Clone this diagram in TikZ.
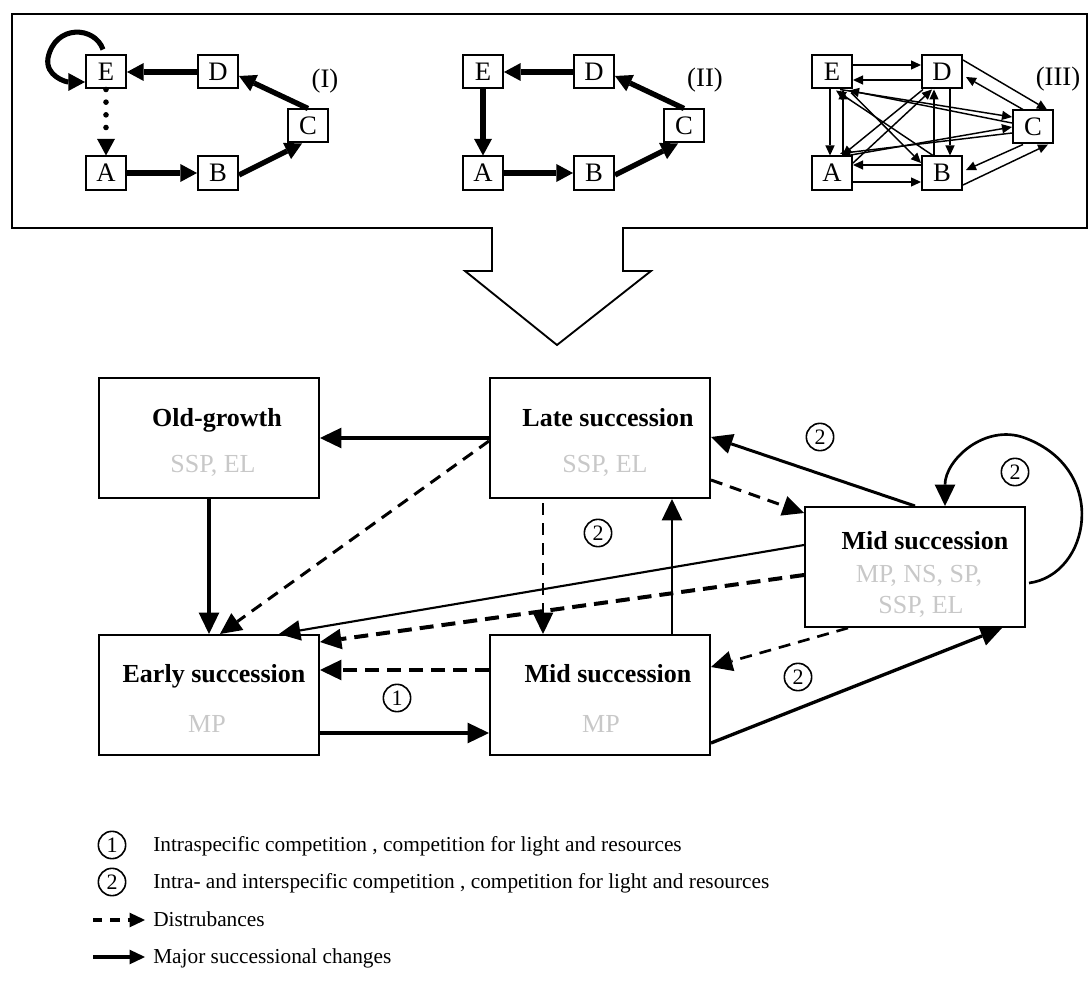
\documentclass[tikz,border=0pt]{standalone}
\usepackage{fontspec}
\setmainfont{Liberation Serif}
\usetikzlibrary{arrows.meta,calc}
\definecolor{lg}{RGB}{200,200,200}
\begin{document}
\begin{tikzpicture}[x=0.75pt,y=-0.75pt,
  box/.style={draw,line width=1.5pt,minimum width=165pt,minimum height=90pt,inner sep=0pt},
  ttl/.style={font=\fontsize{19.5}{20}\selectfont\bfseries,anchor=base,inner sep=0pt},
  sub/.style={font=\fontsize{19.5}{20}\selectfont,text=lg,anchor=base,inner sep=0pt},
  pbox/.style={draw,line width=1.5pt,minimum width=30pt,minimum height=24.75pt,inner sep=0pt,font=\fontsize{20}{20}\selectfont},
  plab/.style={font=\fontsize{20}{20}\selectfont,inner sep=0pt},
  cnum/.style={draw,circle,line width=1.2pt,minimum size=20.5pt,inner sep=0pt,font=\fontsize{16.5}{16.5}\selectfont},
  legtxt/.style={font=\fontsize{16}{16}\selectfont,anchor=base west,inner sep=0pt},
  mtip/.style={-{Triangle[length=16pt,width=15.5pt,line width=0pt]}},
  ptip/.style={-{Triangle[length=12.5pt,width=13.5pt,line width=0pt]}},
  ttip/.style={-{Triangle[length=7.5pt,width=7pt,line width=0pt]}},
  ltip/.style={-{Triangle[length=11.5pt,width=11pt,line width=0pt]}},
  dsh/.style={dash pattern=on 9pt off 6pt},
  dshB/.style={dash pattern=on 10.5pt off 6pt},
  parr/.style={ptip,line width=4pt},
  tarr/.style={ttip,line width=1.1pt}
]
\useasboundingbox (0,0) rectangle (1090,981);

% ---------- top frame with hollow arrow ----------
\draw[line width=1.4pt,line join=miter] (12,14) -- (1087,14) -- (1087,228) -- (623,228) -- (623,271) -- (651,271) -- (557,345) -- (465,271) -- (492,271) -- (492,228) -- (12,228) -- cycle;

% ---------- panel I ----------
\node[pbox] (iE) at (106,72) {E};
\node[pbox] (iD) at (218,72) {D};
\node[pbox] (iC) at (308,126) {C};
\node[pbox] (iA) at (106,173) {A};
\node[pbox] (iB) at (218,173) {B};
\node[plab] (iL) at (325,81) {(I)};
\draw[parr] (iD.west) -- (iE.east);
\draw[parr] (iC.north) -- ($(iD.east)+(0,4)$);
\draw[parr] (iA.east) -- (iB.west);
\draw[parr] ($(iB.east)+(0,2)$) -- ($(iC.south)+(-6,0)$);
\draw[ptip,line width=4.2pt,line cap=round,dash pattern=on 0pt off 9.5pt] (iE.south) -- (iA.north);
\draw[ptip,line width=3.8pt] ($(iE.north)+(-3,-5)$) .. controls (95,26) and (55,24) .. (48,58) .. controls (45,76) and (66,82) .. ($(iE.west)+(0,10)$);

% ---------- panel II ----------
\node[pbox] (iiE) at (483,72) {E};
\node[pbox] (iiD) at (594,72) {D};
\node[pbox] (iiC) at (684,126) {C};
\node[pbox] (iiA) at (483,173) {A};
\node[pbox] (iiB) at (594,173) {B};
\node[plab] (iiL) at (705,80) {(II)};
\draw[parr] (iiD.west) -- (iiE.east);
\draw[parr] (iiC.north) -- ($(iiD.east)+(0,4)$);
\draw[parr] (iiA.east) -- (iiB.west);
\draw[parr] ($(iiB.east)+(0,2)$) -- ($(iiC.south)+(-6,0)$);
\draw[parr] (iiE.south) -- (iiA.north);

% ---------- panel III ----------
\node[pbox] (iiiE) at (832,72) {E};
\node[pbox] (iiiD) at (942,72) {D};
\node[pbox] (iiiC) at (1033,127) {C};
\node[pbox] (iiiA) at (832,173) {A};
\node[pbox] (iiiB) at (942,173) {B};
\node[plab] (iiiL) at (1058,79) {(III)};
\draw[tarr] ($(iiiE.east)+(0,-7)$) -- ($(iiiD.west)+(0,-7)$);
\draw[tarr] ($(iiiD.west)+(0,8)$) -- ($(iiiE.east)+(0,8)$);
\draw[tarr] ($(iiiA.east)+(0,9)$) -- ($(iiiB.west)+(0,9)$);
\draw[tarr] ($(iiiB.west)+(0,-8)$) -- ($(iiiA.east)+(0,-8)$);
\draw[tarr] ($(iiiE.south)+(-2,0)$) -- ($(iiiA.north)+(-2,0)$);
\draw[tarr] ($(iiiA.north)+(11,0)$) -- ($(iiiE.south)+(11,0)$);
\draw[tarr] ($(iiiD.south)+(8,0)$) -- ($(iiiB.north)+(8,0)$);
\draw[tarr] ($(iiiB.north)+(-8,0)$) -- ($(iiiD.south)+(-8,0)$);
\draw[tarr] ($(iiiD.east)+(0,-12)$) -- ($(iiiC.north)+(14,0)$);
\draw[tarr] ($(iiiC.north)+(-10,0)$) -- ($(iiiD.east)+(3,5)$);
\draw[tarr] ($(iiiC.south)+(-10,0)$) -- ($(iiiB.east)+(3,-3)$);
\draw[tarr] ($(iiiB.east)+(0,12)$) -- ($(iiiC.south)+(15,0)$);
\draw[tarr] ($(iiiE.south)+(8,0)$) -- ($(iiiC.west)+(0,-10)$);
\draw[tarr] ($(iiiC.west)+(0,-4)$) -- ($(iiiE.south)+(17,1)$);
\draw[tarr] ($(iiiA.north)+(16,0)$) -- (iiiC.west);
\draw[tarr] ($(iiiC.west)+(0,6)$) -- ($(iiiA.north)+(8,-2)$);
\draw[tarr] ($(iiiA.east)+(0,-10)$) -- ($(iiiD.south)+(-10,0)$);
\draw[tarr] ($(iiiD.south west)+(2,0)$) -- ($(iiiA.north)+(10,0)$);
\draw[tarr] ($(iiiE.south east)+(-2,3)$) -- ($(iiiB.west)+(0,-10)$);
\draw[tarr] ($(iiiB.north)+(-9,0)$) -- ($(iiiE.south)+(4,1)$);

% ---------- main boxes ----------
\node[box] (old) at (209,438) {};
\node[box] (late) at (600,438) {};
\node[box] (midR) at (915,567) {};
\node[box] (early) at (209,695) {};
\node[box] (midB) at (600,695) {};

\node[ttl] (oldT) at ($(old)+(8,-12)$) {Old-growth};
\node[sub] (oldS) at ($(old)+(4,34)$) {SSP, EL};
\node[ttl] (lateT) at ($(late)+(8,-12)$) {Late succession};
\node[sub] (lateS) at ($(late)+(5,34)$) {SSP, EL};
\node[ttl] (midRT) at ($(midR)+(10,-18)$) {Mid succession};
\node[sub] (midRS1) at ($(midR)+(4,15)$) {MP, NS, SP,};
\node[sub] (midRS2) at ($(midR)+(6,46)$) {SSP, EL};
\node[ttl] (earlyT) at ($(early)+(5,-13)$) {Early succession};
\node[sub] (earlyS) at ($(early)+(-2,37)$) {MP};
\node[ttl] (midBT) at ($(midB)+(8,-13)$) {Mid succession};
\node[sub] (midBS) at ($(midB)+(1,37)$) {MP};

% ---------- main connectors ----------
\draw[mtip,line width=2.5pt] (late.west) -- (old.east);
\draw[mtip,line width=2.25pt,dsh] ($(late.west)+(0,3)$) -- ($(early.north)+(11,0)$);
\draw[mtip,line width=2.5pt] (old.south) -- (early.north);
\draw[mtip,line width=1.9pt,dsh] ($(late.south)+(-57,4)$) -- ($(midB.north)+(-57,0)$);
\draw[mtip,line width=2pt] ($(midB.north)+(72,0)$) -- ($(late.south)+(72,0)$);
\draw[mtip,line width=2.25pt,dsh] ($(late.east)+(0,42)$) -- ($(midR.west)+(0,-54)$);
\draw[mtip,line width=2.25pt] (midR.north) -- ($(late.east)+(0,-1)$);
\draw[mtip,line width=2pt] ($(midR.east)+(3,16)$) .. controls (1090,575) and (1110,470) .. (1025,438) .. controls (985,423) and (945,460) .. ($(midR.north)+(30,0)$);
\draw[mtip,line width=1.6pt] ($(midR.west)+(0,-22)$) -- ($(early.north)+(70,0)$);
\draw[mtip,line width=3pt,dshB] ($(midR.west)+(0,8)$) -- ($(early.east)+(0,-53)$);
\draw[mtip,line width=3pt,dshB] ($(midB.west)+(0,-25)$) -- ($(early.east)+(0,-25)$);
\draw[mtip,line width=3pt] ($(early.east)+(0,38)$) -- ($(midB.west)+(0,38)$);
\draw[mtip,line width=2pt,dsh] ($(midR.south)+(-67,0)$) -- ($(midB.east)+(0,-28)$);
\draw[mtip,line width=2.5pt] ($(midB.east)+(0,48)$) -- ($(midR.south)+(87,0)$);

% ---------- circled numbers ----------
\node[cnum] (n1) at (820,437) {2};
\node[cnum] (n2) at (1015,472) {2};
\node[cnum] (n3) at (598,533) {2};
\node[cnum] (n4) at (397,698) {1};
\node[cnum] (n5) at (798,677) {2};

% ---------- legend ----------
\node[cnum] (l1) at (112,845) {1};
\node[legtxt] (l1t) at (153,851) {Intraspecific competition , competition for light and resources};
\node[cnum] (l2) at (112,882) {2};
\node[legtxt] (l2t) at (153,888) {Intra- and interspecific competition , competition for light and resources};
\coordinate (ld0) at (93,920);
\coordinate (ld1) at (145,920);
\draw[ltip,line width=2.4pt,dash pattern=on 7pt off 6pt] (ld0) -- (ld1);
\node[legtxt] (l3t) at (153,926) {Distrubances};
\coordinate (ls0) at (93,957);
\coordinate (ls1) at (145,957);
\draw[ltip,line width=2.4pt] (ls0) -- (ls1);
\node[legtxt] (l4t) at (153,963) {Major successional changes};
\end{tikzpicture}
\end{document}
